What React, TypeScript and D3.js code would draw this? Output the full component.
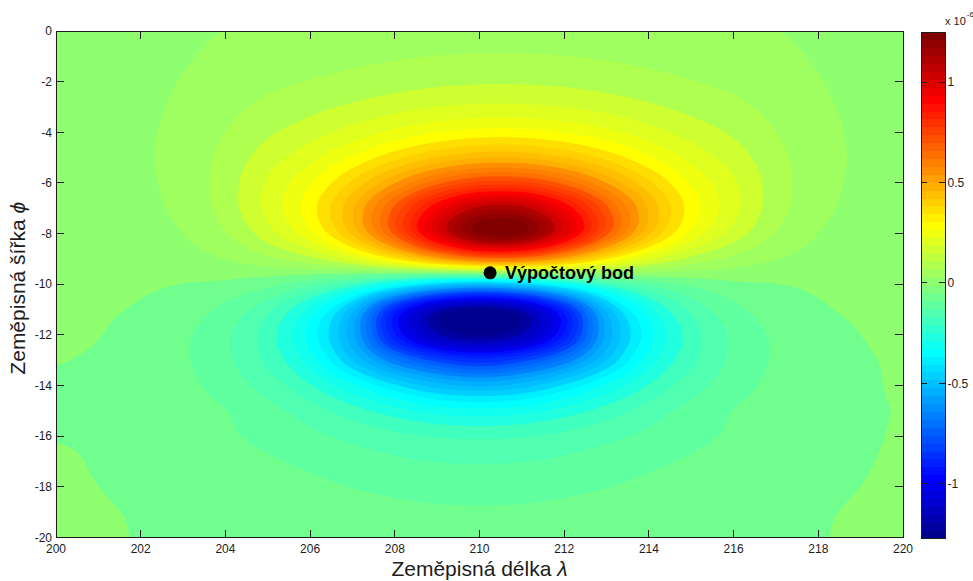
import React, { useMemo } from 'react';
import * as d3 from 'd3';

// Longitude / latitude nodes of the sampled field (degrees)
const LONGITUDES = [200, 201, 202, 203, 204, 205, 206, 207, 208, 209, 210, 211, 212, 213, 214, 215, 216, 217, 218, 219, 220];
const LATITUDES = [0, -1, -2, -3, -4, -5, -6, -7, -8, -9, -10, -11, -12, -13, -14, -15, -16, -17, -18, -19, -20];

// Field values in units of 1e-6, one row per latitude (north to south), one column per longitude
const FIELD: number[][] = [
  [0.026, 0.029, 0.034, 0.042, 0.051, 0.058, 0.064, 0.069, 0.073, 0.076, 0.078, 0.078, 0.076, 0.073, 0.069, 0.064, 0.058, 0.051, 0.042, 0.034, 0.029],
  [0.026, 0.030, 0.037, 0.046, 0.060, 0.071, 0.080, 0.088, 0.095, 0.101, 0.104, 0.104, 0.101, 0.095, 0.088, 0.080, 0.071, 0.060, 0.046, 0.037, 0.030],
  [0.026, 0.031, 0.039, 0.052, 0.071, 0.089, 0.102, 0.116, 0.129, 0.139, 0.144, 0.144, 0.139, 0.129, 0.116, 0.102, 0.089, 0.071, 0.052, 0.039, 0.031],
  [0.027, 0.032, 0.041, 0.058, 0.085, 0.112, 0.135, 0.159, 0.182, 0.200, 0.210, 0.210, 0.200, 0.182, 0.159, 0.135, 0.112, 0.085, 0.058, 0.041, 0.032],
  [0.026, 0.032, 0.043, 0.064, 0.100, 0.142, 0.179, 0.221, 0.263, 0.298, 0.319, 0.319, 0.298, 0.263, 0.221, 0.179, 0.142, 0.100, 0.064, 0.043, 0.032],
  [0.026, 0.032, 0.044, 0.068, 0.116, 0.176, 0.235, 0.307, 0.385, 0.455, 0.497, 0.497, 0.455, 0.385, 0.307, 0.235, 0.176, 0.116, 0.068, 0.044, 0.032],
  [0.025, 0.031, 0.042, 0.068, 0.125, 0.207, 0.294, 0.411, 0.550, 0.685, 0.770, 0.770, 0.685, 0.550, 0.411, 0.294, 0.207, 0.125, 0.068, 0.042, 0.031],
  [0.024, 0.028, 0.039, 0.063, 0.122, 0.216, 0.327, 0.493, 0.712, 0.945, 1.120, 1.120, 0.945, 0.712, 0.493, 0.327, 0.216, 0.122, 0.063, 0.039, 0.028],
  [0.023, 0.026, 0.033, 0.050, 0.097, 0.179, 0.285, 0.459, 0.713, 1.013, 1.250, 1.250, 1.013, 0.713, 0.459, 0.285, 0.179, 0.097, 0.050, 0.033, 0.026],
  [0.021, 0.022, 0.025, 0.032, 0.051, 0.086, 0.135, 0.219, 0.352, 0.520, 0.651, 0.651, 0.520, 0.352, 0.219, 0.135, 0.086, 0.051, 0.032, 0.025, 0.022],
  [0.017, 0.015, 0.008, -0.001, -0.010, -0.037, -0.088, -0.175, -0.298, -0.424, -0.480, -0.424, -0.298, -0.175, -0.088, -0.037, -0.010, -0.001, 0.008, 0.015, 0.017],
  [0.012, 0.006, -0.005, -0.026, -0.064, -0.137, -0.267, -0.481, -0.860, -1.130, -1.215, -1.130, -0.860, -0.481, -0.267, -0.137, -0.064, -0.026, -0.005, 0.006, 0.012],
  [0.006, 0.001, -0.015, -0.042, -0.090, -0.175, -0.318, -0.536, -0.890, -1.135, -1.205, -1.135, -0.890, -0.536, -0.318, -0.175, -0.090, -0.042, -0.015, 0.000, 0.008],
  [0.001, -0.004, -0.018, -0.044, -0.088, -0.161, -0.273, -0.450, -0.640, -0.771, -0.834, -0.771, -0.640, -0.450, -0.273, -0.161, -0.088, -0.044, -0.018, -0.004, 0.004],
  [-0.003, -0.005, -0.016, -0.037, -0.071, -0.122, -0.196, -0.290, -0.392, -0.474, -0.506, -0.474, -0.392, -0.290, -0.196, -0.122, -0.071, -0.037, -0.016, -0.005, 0.003],
  [-0.004, -0.004, -0.012, -0.026, -0.049, -0.082, -0.126, -0.178, -0.229, -0.269, -0.284, -0.269, -0.229, -0.178, -0.126, -0.082, -0.049, -0.026, -0.012, -0.004, 0.001],
  [-0.001, -0.004, -0.013, -0.026, -0.043, -0.064, -0.088, -0.113, -0.137, -0.154, -0.160, -0.154, -0.137, -0.113, -0.088, -0.064, -0.043, -0.026, -0.013, -0.004, 0.002],
  [0.003, -0.002, -0.009, -0.018, -0.030, -0.044, -0.060, -0.076, -0.091, -0.101, -0.105, -0.101, -0.091, -0.076, -0.060, -0.044, -0.030, -0.018, -0.009, -0.002, 0.003],
  [0.004, 0.000, -0.005, -0.012, -0.020, -0.030, -0.040, -0.051, -0.060, -0.066, -0.068, -0.066, -0.060, -0.051, -0.040, -0.030, -0.020, -0.012, -0.005, 0.000, 0.004],
  [0.005, 0.002, -0.002, -0.007, -0.013, -0.020, -0.027, -0.034, -0.040, -0.044, -0.045, -0.044, -0.040, -0.034, -0.027, -0.020, -0.013, -0.007, -0.002, 0.002, 0.005],
  [0.006, 0.003, -0.001, -0.004, -0.009, -0.014, -0.019, -0.024, -0.028, -0.031, -0.032, -0.031, -0.028, -0.024, -0.019, -0.014, -0.009, -0.004, -0.001, 0.003, 0.006],
];

// Filled-contour levels and colour limits (1e-6)
const LEVELS = d3.range(-25, 26).map((k) => +(k * 0.05).toFixed(2));
const COLOR_LIMITS = [-1.27, 1.25];

// Axis ticks
const LON_TICKS = [200, 202, 204, 206, 208, 210, 212, 214, 216, 218, 220];
const LAT_TICKS = [0, -2, -4, -6, -8, -10, -12, -14, -16, -18, -20];
const CBAR_TICKS = [-1, -0.5, 0, 0.5, 1];

// Computation point
const POINT = { lon: 210.25, lat: -9.55, label: 'Výpočtový bod' };

const W = 973;
const H = 581;
const PLOT = { left: 56, right: 903, top: 31, bottom: 537.5 };
const CBAR = { left: 921, right: 945, top: 32, bottom: 538 };
const FONT = '"Liberation Sans", Arial, Helvetica, sans-serif';
const INK = '#1c1c1c';

// MATLAB-style jet(64) colormap
function jet64(): string[] {
  const m = 64;
  const n = 16;
  const u: number[] = [];
  for (let k = 1; k <= n; k++) u.push(k / n);
  for (let k = 0; k < n - 1; k++) u.push(1);
  for (let k = n; k >= 1; k--) u.push(k / n);
  const out: number[][] = d3.range(m).map(() => [0, 0, 0]);
  const g0 = Math.ceil(n / 2);
  u.forEach((val, k) => {
    const gi = g0 + k + 1;
    const ri = gi + n;
    const bi = gi - n;
    if (ri >= 1 && ri <= m) out[ri - 1][0] = val;
    if (gi >= 1 && gi <= m) out[gi - 1][1] = val;
    if (bi >= 1 && bi <= m) out[bi - 1][2] = val;
  });
  return out.map(([r, g, b]) => d3.rgb(r * 255, g * 255, b * 255).formatHex());
}
const JET = jet64();

function colorOf(v: number): string {
  const [lo, hi] = COLOR_LIMITS;
  let idx = Math.floor(((v - lo) / (hi - lo)) * JET.length + 1e-9);
  idx = Math.max(0, Math.min(JET.length - 1, idx));
  return JET[idx];
}

// Catmull-Rom resampling of the node grid for smooth contour outlines
function cr(p0: number, p1: number, p2: number, p3: number, t: number) {
  return 0.5 * (2 * p1 + (-p0 + p2) * t + (2 * p0 - 5 * p1 + 4 * p2 - p3) * t * t + (-p0 + 3 * p1 - 3 * p2 + p3) * t * t * t);
}
function sampleField(gx: number, gy: number) {
  const rows = FIELD.length;
  const cols = FIELD[0].length;
  const i = Math.min(Math.floor(gx), cols - 2);
  const j = Math.min(Math.floor(gy), rows - 2);
  const tx = gx - i;
  const ty = gy - j;
  const at = (r: number, c: number) => FIELD[Math.max(0, Math.min(rows - 1, r))][Math.max(0, Math.min(cols - 1, c))];
  const col: number[] = [];
  for (let m = -1; m <= 2; m++) col.push(cr(at(j + m, i - 1), at(j + m, i), at(j + m, i + 1), at(j + m, i + 2), tx));
  return cr(col[0], col[1], col[2], col[3], ty);
}

export default function App() {
  const x = d3.scaleLinear().domain([LONGITUDES[0], LONGITUDES[LONGITUDES.length - 1]]).range([PLOT.left, PLOT.right]);
  const y = d3.scaleLinear().domain([LATITUDES[0], LATITUDES[LATITUDES.length - 1]]).range([PLOT.top, PLOT.bottom]);
  const cb = d3.scaleLinear().domain(COLOR_LIMITS).range([CBAR.bottom, CBAR.top]);

  const bands = useMemo(() => {
    const step = 0.05;
    const lonStep = LONGITUDES[1] - LONGITUDES[0];
    const latStep = LATITUDES[1] - LATITUDES[0];
    const nx = Math.round((LONGITUDES.length - 1) / step) + 1;
    const ny = Math.round((LATITUDES.length - 1) / step) + 1;
    const values = new Float64Array(nx * ny);
    for (let j = 0; j < ny; j++) {
      for (let i = 0; i < nx; i++) {
        values[j * nx + i] = sampleField(i * step, j * step);
      }
    }
    const gen = d3.contours().size([nx, ny]).thresholds(LEVELS);
    const proj = d3.geoTransform({
      point(px: number, py: number) {
        const lon = LONGITUDES[0] + (px - 0.5) * step * lonStep;
        const lat = LATITUDES[0] + (py - 0.5) * step * latStep;
        (this as any).stream.point(x(lon), y(lat));
      },
    });
    const path = d3.geoPath(proj);
    return gen(Array.from(values)).map((c) => ({ level: c.value, d: path(c as any) || '' }));
  }, []);

  const tickLen = 8;
  const cbarCells = d3.range(JET.length);

  return (
    <svg width={W} height={H} style={{ position: 'absolute', left: 0, top: 0, background: '#fff' }} fontFamily={FONT}>
      <defs>
        <clipPath id="plot-clip">
          <rect x={PLOT.left} y={PLOT.top} width={PLOT.right - PLOT.left} height={PLOT.bottom - PLOT.top} />
        </clipPath>
      </defs>
      <rect width={W} height={H} fill="#fff" />

      {/* filled contours */}
      <g clipPath="url(#plot-clip)">
        <rect x={PLOT.left} y={PLOT.top} width={PLOT.right - PLOT.left} height={PLOT.bottom - PLOT.top} fill={JET[0]} />
        {bands.map((b) => (
          <path key={b.level} d={b.d} fill={colorOf(b.level)} stroke="none" />
        ))}
      </g>

      {/* axes box and inward ticks */}
      <g stroke={INK} strokeWidth={1} shapeRendering="crispEdges">
        <rect x={PLOT.left} y={PLOT.top} width={PLOT.right - PLOT.left} height={PLOT.bottom - PLOT.top} fill="none" />
        {LON_TICKS.map((t) => (
          <g key={`xt${t}`}>
            <line x1={x(t)} x2={x(t)} y1={PLOT.bottom} y2={PLOT.bottom - tickLen} />
            <line x1={x(t)} x2={x(t)} y1={PLOT.top} y2={PLOT.top + tickLen} />
          </g>
        ))}
        {LAT_TICKS.map((t) => (
          <g key={`yt${t}`}>
            <line x1={PLOT.left} x2={PLOT.left + tickLen} y1={y(t)} y2={y(t)} />
            <line x1={PLOT.right} x2={PLOT.right - tickLen} y1={y(t)} y2={y(t)} />
          </g>
        ))}
      </g>

      {/* tick labels */}
      <g fontSize={12} fill={INK}>
        {LON_TICKS.map((t) => (
          <text key={`xl${t}`} x={x(t)} y={PLOT.bottom + 15.5} textAnchor="middle">
            {t}
          </text>
        ))}
        {LAT_TICKS.map((t) => (
          <text key={`yl${t}`} x={PLOT.left - 4} y={y(t)} dy="0.35em" textAnchor="end">
            {t}
          </text>
        ))}
      </g>

      {/* axis titles */}
      <text x={(PLOT.left + PLOT.right) / 2} y={576} textAnchor="middle" fontSize={21} fill={INK}>
        Zeměpisná délka <tspan fontStyle="italic">λ</tspan>
      </text>
      <text
        transform={`translate(25, ${(PLOT.top + PLOT.bottom) / 2 + 4}) rotate(-90)`}
        textAnchor="middle"
        fontSize={21}
        fill={INK}
      >
        Zeměpisná šířka <tspan fontStyle="italic">ϕ</tspan>
      </text>

      {/* computation point */}
      <circle cx={x(POINT.lon)} cy={y(POINT.lat)} r={6.5} fill="#000" />
      <text x={x(POINT.lon) + 15} y={y(POINT.lat) + 6.5} fontSize={18} fontWeight="bold" fill="#000">
        {POINT.label}
      </text>

      {/* colour bar */}
      <g shapeRendering="crispEdges">
        {cbarCells.map((k) => {
          const [lo, hi] = COLOR_LIMITS;
          const v0 = lo + ((hi - lo) * k) / JET.length;
          const v1 = lo + ((hi - lo) * (k + 1)) / JET.length;
          return <rect key={`cb${k}`} x={CBAR.left} width={CBAR.right - CBAR.left} y={cb(v1)} height={cb(v0) - cb(v1) + 0.5} fill={JET[k]} />;
        })}
        <rect x={CBAR.left} y={CBAR.top} width={CBAR.right - CBAR.left} height={CBAR.bottom - CBAR.top} fill="none" stroke={INK} />
        {CBAR_TICKS.map((t) => (
          <g key={`cbt${t}`} stroke={INK}>
            <line x1={CBAR.left} x2={CBAR.left + 6} y1={cb(t)} y2={cb(t)} />
            <line x1={CBAR.right} x2={CBAR.right - 6} y1={cb(t)} y2={cb(t)} />
          </g>
        ))}
      </g>
      <g fontSize={12} fill={INK}>
        {CBAR_TICKS.map((t) => (
          <text key={`cbl${t}`} x={CBAR.right + 2.5} y={cb(t)} dy="0.35em">
            {t}
          </text>
        ))}
        <text x={CBAR.right} y={25} fontSize={11}>
          x 10
          <tspan dx={1} dy={-8} fontSize={8}>
            -6
          </tspan>
        </text>
      </g>
    </svg>
  );
}
